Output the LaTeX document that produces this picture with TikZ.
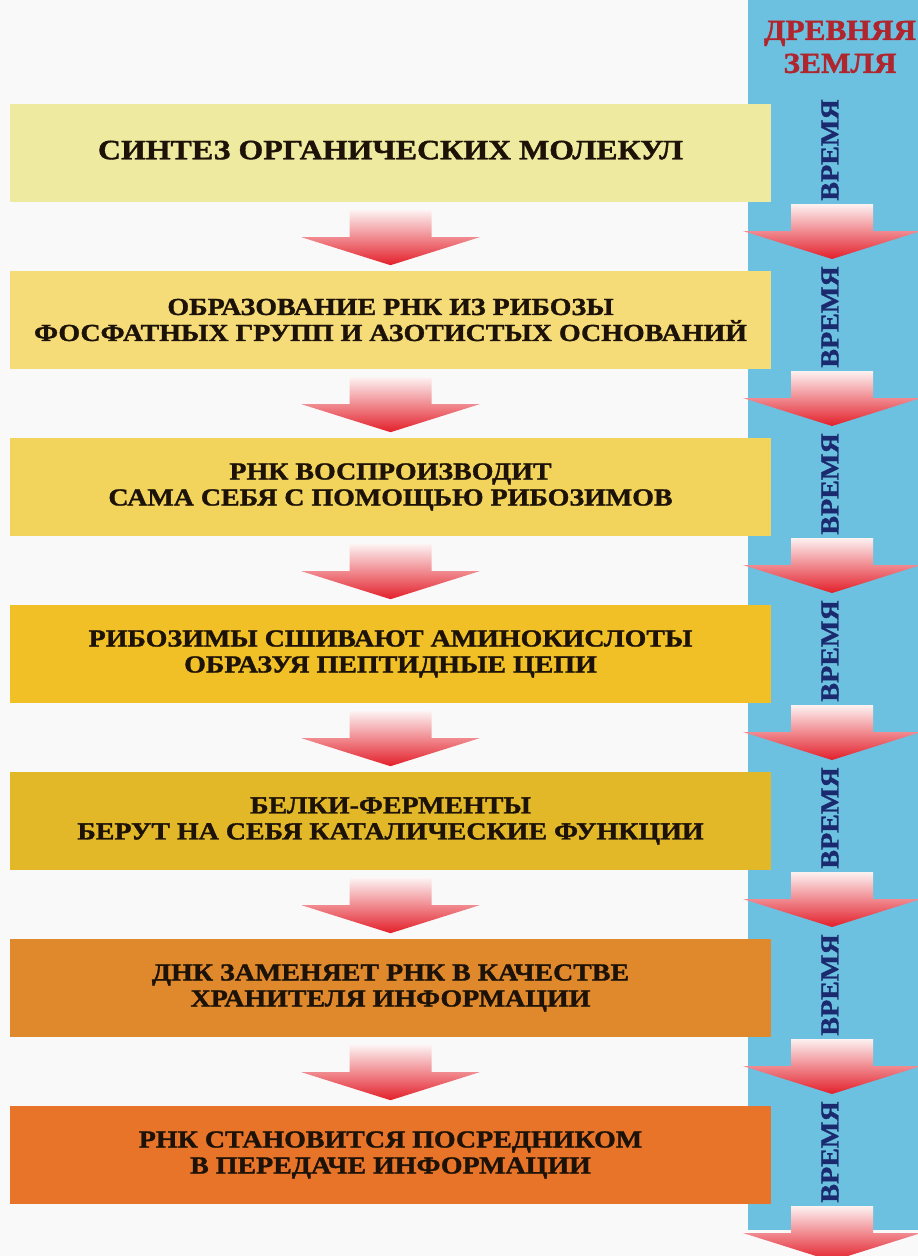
\documentclass[tikz,border=0pt]{standalone}
\usepackage{fontspec}
\setmainfont{Liberation Serif}
\newfontfamily\widefont{Liberation Serif}[FakeStretch=1.14,FakeBold=1.3]
\newfontfamily\midfont{Liberation Serif}[FakeStretch=1.08,FakeBold=1.3]
\usetikzlibrary{calc}
\definecolor{bgc}{HTML}{F9F9F9}
\definecolor{bluec}{HTML}{6DC1E0}
\definecolor{txtc}{HTML}{1C1208}
\definecolor{redt}{HTML}{B0262E}
\definecolor{navyt}{HTML}{1B2A6E}
\definecolor{c1}{HTML}{EEEA9F}
\definecolor{c2}{HTML}{F5DC78}
\definecolor{c3}{HTML}{F2D35C}
\definecolor{c4}{HTML}{F0C026}
\definecolor{c5}{HTML}{E2B829}
\definecolor{c6}{HTML}{E0892C}
\definecolor{c7}{HTML}{E8742A}
\definecolor{arrtop}{HTML}{FDF2F2}
\definecolor{arrmid}{HTML}{EB4F57}
\definecolor{arrbot}{HTML}{E31F2A}
\tikzset{
  stagebox/.style={minimum width=761pt, minimum height=98pt, inner sep=0pt,
    text=txtc, align=center, font=\widefont\fontsize{24.5}{26}\selectfont\bfseries},
  timelabel/.style={rotate=90, text=navyt, inner sep=0pt,
    font=\midfont\fontsize{26}{28}\selectfont\bfseries},
  headlabel/.style={text=redt, inner sep=0pt, align=center,
    font=\midfont\fontsize{29}{33}\selectfont\bfseries},
  blockarrow/.pic={
    \shade[top color=arrtop, middle color=arrmid, bottom color=arrbot]
      (-41,0) -- (41,0) -- (41,27) -- (89,27) -- (0,55) -- (-89,27) -- (-41,27) -- cycle;
  }
}
\begin{document}
\begin{tikzpicture}[x=1pt, y=-1pt]
\fill[bgc] (0,0) rectangle (918,1256);
\useasboundingbox (0,0) rectangle (918,1256);
\fill[bluec] (748,0) rectangle (918,1230);
% stage boxes
\node[stagebox, fill=c1, font=\widefont\fontsize{28}{30}\selectfont\bfseries] (b1) at (390.5,153)
  {\raisebox{6pt}{СИНТЕЗ ОРГАНИЧЕСКИХ МОЛЕКУЛ}};
\node[stagebox, fill=c2] (b2) at (390.5,320)
  {ОБРАЗОВАНИЕ РНК ИЗ РИБОЗЫ\\ФОСФАТНЫХ ГРУПП И АЗОТИСТЫХ ОСНОВАНИЙ};
\node[stagebox, fill=c3] (b3) at (390.5,487)
  {РНК ВОСПРОИЗВОДИТ\\САМА СЕБЯ С ПОМОЩЬЮ РИБОЗИМОВ};
\node[stagebox, fill=c4] (b4) at (390.5,654)
  {РИБОЗИМЫ СШИВАЮТ АМИНОКИСЛОТЫ\\ОБРАЗУЯ ПЕПТИДНЫЕ ЦЕПИ};
\node[stagebox, fill=c5] (b5) at (390.5,821)
  {БЕЛКИ-ФЕРМЕНТЫ\\БЕРУТ НА СЕБЯ КАТАЛИЧЕСКИЕ ФУНКЦИИ};
\node[stagebox, fill=c6] (b6) at (390.5,988)
  {ДНК ЗАМЕНЯЕТ РНК В КАЧЕСТВЕ\\ХРАНИТЕЛЯ ИНФОРМАЦИИ};
\node[stagebox, fill=c7] (b7) at (390.5,1155)
  {РНК СТАНОВИТСЯ ПОСРЕДНИКОМ\\В ПЕРЕДАЧЕ ИНФОРМАЦИИ};
% block arrows between stages
\foreach \k in {1,...,6}{
  \path ($(b\k.south)+(0,8)$) pic {blockarrow};
}
% time column
\node[headlabel] (head) at (840,47) {ДРЕВНЯЯ\\ЗЕМЛЯ};
\foreach \k in {0,...,6}{
  \node[timelabel] (t\k) at (830,{150+167*\k}) {ВРЕМЯ};
  \path (832,{204+167*\k}) pic {blockarrow};
}
\end{tikzpicture}
\end{document}
